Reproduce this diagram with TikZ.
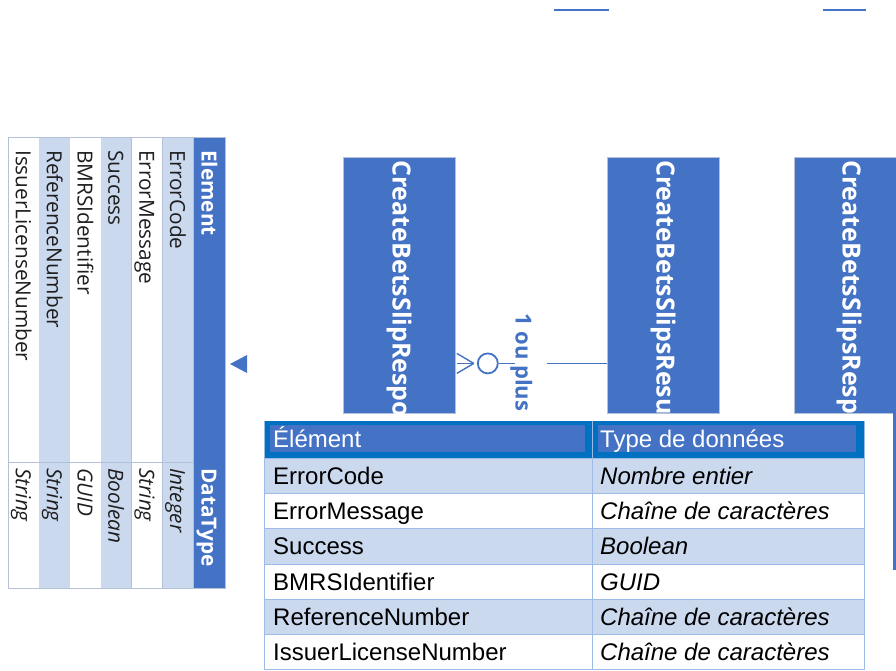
\documentclass[tikz,border=0pt]{standalone}
\usepackage{fontspec}
\setmainfont{Liberation Sans}
\newfontfamily\uifont{Open Sans}
\usetikzlibrary{calc}
\definecolor{entblue}{HTML}{4472C4}
\definecolor{hdrblue}{HTML}{0070C0}
\definecolor{rowblue}{HTML}{CBD9EF}
\definecolor{gridblue}{HTML}{9DBBE6}
\definecolor{edgegray}{HTML}{B4C0D8}
\definecolor{inkdark}{HTML}{1E1E1E}

\begin{document}
\begin{tikzpicture}[x=1pt,y=-1pt,
  entity/.style={draw=edgegray, line width=0.8pt, fill=entblue,
    minimum width=112pt, minimum height=256pt, inner sep=0pt, anchor=north west},
  entitytitle/.style={rotate=-90, anchor=west, text=white, inner sep=0pt,
    font=\uifont\bfseries\fontsize{25}{30}\selectfont},
  rel/.style={draw=entblue, line width=1.8pt},
  rellabel/.style={rotate=-90, anchor=base west, text=entblue, inner sep=0pt,
    font=\uifont\bfseries\fontsize{22}{26}\selectfont},
  vcell/.style={rotate=-90, anchor=base west, text=inkdark, inner sep=0pt,
    font=\uifont\fontsize{20.8}{25}\selectfont},
  vhead/.style={rotate=-90, anchor=base west, text=white, inner sep=0pt,
    font=\uifont\bfseries\fontsize{20.8}{25}\selectfont},
  hcell/.style={anchor=base west, text=black, inner sep=0pt,
    font=\fontsize{24}{28}\selectfont},
  hhead/.style={anchor=base west, text=white, inner sep=0pt,
    font=\fontsize{24}{28}\selectfont},
  vgrid/.style={draw=edgegray, line width=0.8pt},
  hgrid/.style={draw=gridblue, line width=1pt}
]
\useasboundingbox (0,0) rectangle (896,670);
\clip (0,0) rectangle (896,670);

% ---------- rotated element table (left) ----------
\fill[entblue] (193,137) rectangle (225,588);
\node[vhead] (vh1) at (201.5,150) {Element};
\node[vhead] (vh2) at (201.5,468) {DataType};
\foreach \i/\el/\ty/\fc in {1/ErrorCode/Integer/rowblue,
                           2/ErrorMessage/String/white,
                           3/Success/Boolean/rowblue,
                           4/BMRSIdentifier/GUID/white,
                           5/ReferenceNumber/String/rowblue,
                           6/IssuerLicenseNumber/String/white}{
  \pgfmathsetmacro{\xr}{193-(\i-1)*30.83}
  \pgfmathsetmacro{\xl}{193-\i*30.83}
  \pgfmathsetmacro{\xb}{193-(\i-0.5)*30.83-7.5}
  \fill[\fc] (\xl,137) rectangle (\xr,588);
  \draw[vgrid] (\xl,137) -- (\xl,588);
  \node[vcell] (ve\i) at (\xb,150) {\el};
  \node[vcell] (vt\i) at (\xb,468) {\itshape\ty};
}
\draw[vgrid] (8,462) -- (193,462);
\draw[vgrid] (8,137) rectangle (225,588);
\draw[vgrid] (193,137) -- (193,588);

% pointer mark
\fill[entblue] (230,364) -- (247,355) -- (247,373) -- cycle;

% ---------- entities ----------
\node[entity] (b1) at (343,157) {};
\node[entity] (b2) at (607,157) {};
\node[entity] (b3) at (794,157) {};
\begin{scope}
  \clip (b1.north west) rectangle (b1.south east);
  \node[entitytitle] (t1) at (399,160) {CreateBetsSlipResponse};
\end{scope}
\begin{scope}
  \clip (b2.north west) rectangle (b2.south east);
  \node[entitytitle] (t2) at (663,160) {CreateBetsSlipsResult};
\end{scope}
\begin{scope}
  \clip (b3.north west) rectangle (b3.south east);
  \node[entitytitle] (t3) at (849,160) {CreateBetsSlipsResponse};
\end{scope}
\fill[entblue] (893,413) rectangle (896,570);

% ---------- relationship: zero or more ----------
\coordinate (cf) at ([yshift=-78pt]b1.east);
\coordinate (cfa) at ([xshift=18pt]cf);
\draw[rel, line width=1.4pt] ([xshift=1pt,yshift=10pt]cf) -- (cfa);
\draw[rel, line width=1.4pt] ([xshift=1pt]cf) -- (cfa);
\draw[rel, line width=1.4pt] ([xshift=1pt,yshift=-10pt]cf) -- (cfa);
\node[circle, draw=entblue, line width=1.8pt, minimum size=20pt, inner sep=0pt] (ring) at ([xshift=32pt]cf) {};
\draw[rel] (ring.east) -- ++(16,0);
\coordinate (cg) at ([yshift=-78pt]b2.west);
\draw[rel] (cg) -- ++(-60,0);
\node[rellabel] (lbl) at (515.5,313) {1 ou plus};

% top marks
\coordinate (m1a) at (554,10); \coordinate (m1b) at (609,10);
\coordinate (m2a) at (823,10); \coordinate (m2b) at (866,10);
\draw[entblue, line width=2.5pt] (m1a) -- (m1b);
\draw[entblue, line width=2.5pt] (m2a) -- (m2b);

% ---------- element table (bottom) ----------
\fill[hdrblue] (264,421) rectangle (864,458);
\fill[entblue] (270,425) rectangle (585,452);
\fill[entblue] (598,425) rectangle (856,452);
\node[hhead] (hh1) at (273,447.5) {Élément};
\node[hhead] (hh2) at (600,447.5) {Type de données};
\foreach \i/\el/\ty/\fc in {1/ErrorCode/Nombre entier/rowblue,
                           2/ErrorMessage/Chaîne de caractères/white,
                           3/Success/Boolean/rowblue,
                           4/BMRSIdentifier/GUID/white,
                           5/ReferenceNumber/Chaîne de caractères/rowblue,
                           6/IssuerLicenseNumber/Chaîne de caractères/white}{
  \pgfmathsetmacro{\yt}{458+(\i-1)*35.33}
  \pgfmathsetmacro{\yb}{458+\i*35.33}
  \pgfmathsetmacro{\ybase}{458+(\i-0.5)*35.33+8.5}
  \fill[\fc] (264,\yt) rectangle (864,\yb);
  \draw[hgrid] (264,\yt) -- (864,\yt);
  \node[hcell] (he\i) at (273,\ybase) {\el};
  \node[hcell] (ht\i) at (600,\ybase) {\itshape\ty};
}
\draw[hgrid] (264,421) -- (264,670);
\draw[hgrid] (864,421) -- (864,670);
\draw[hgrid] (592,421) -- (592,670);
\draw[hgrid] (264,669.5) -- (864,669.5);
\end{tikzpicture}
\end{document}
